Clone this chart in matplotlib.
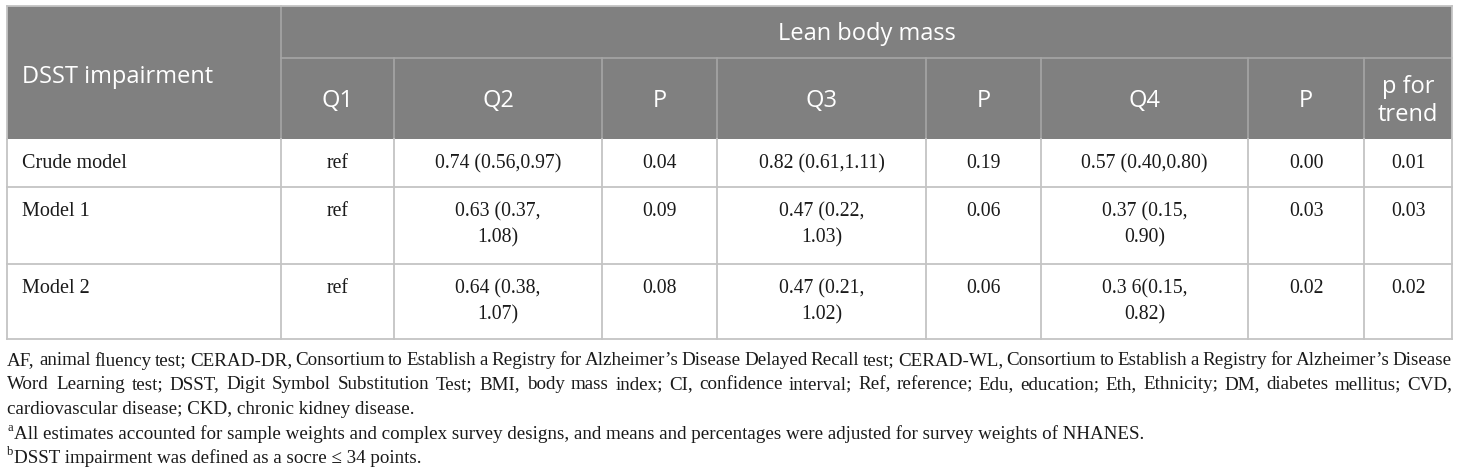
import matplotlib
matplotlib.use("Agg")
import matplotlib.pyplot as plt
from matplotlib.patches import Rectangle
from matplotlib import font_manager
from matplotlib.ft2font import FT2Font

try:
    from matplotlib.ft2font import LoadFlags
    NO_HINT = LoadFlags.NO_HINTING
except ImportError:
    from matplotlib.ft2font import LOAD_NO_HINTING as NO_HINT

# table content
row_labels = ["Crude model", "Model 1", "Model 2"]
col_q1 = ["ref", "ref", "ref"]
col_q2 = ["0.74 (0.56,0.97)", "0.63 (0.37,\n1.08)", "0.64 (0.38,\n1.07)"]
col_p2 = ["0.04", "0.09", "0.08"]
col_q3 = ["0.82 (0.61,1.11)", "0.47 (0.22,\n1.03)", "0.47 (0.21,\n1.02)"]
col_p3 = ["0.19", "0.06", "0.06"]
col_q4 = ["0.57 (0.40,0.80)", "0.37 (0.15,\n0.90)", "0.3 6(0.15,\n0.82)"]
col_p4 = ["0.00", "0.03", "0.02"]
col_trend = ["0.01", "0.03", "0.02"]

header_top = "Lean body mass"
header_first = "DSST impairment"
header_cols = ["Q1", "Q2", "P", "Q3", "P", "Q4", "P", "p for\ntrend"]

notes_justified = [
    "AF, animal fluency test; CERAD-DR, Consortium to Establish a Registry for Alzheimer\u2019s Disease Delayed Recall test; CERAD-WL, Consortium to Establish a Registry for Alzheimer\u2019s Disease",
    "Word Learning test; DSST, Digit Symbol Substitution Test; BMI, body mass index; CI, confidence interval; Ref, reference; Edu, education; Eth, Ethnicity; DM, diabetes mellitus; CVD,",
]
note_last = "cardiovascular disease; CKD, chronic kidney disease."
note_a = "All estimates accounted for sample weights and complex survey designs, and means and percentages were adjusted for survey weights of NHANES."
note_b = "DSST impairment was defined as a socre \u2264 34 points."

# layout in pixels
W, H = 1460, 477
col_edges = [7, 281, 394, 602, 717, 926, 1041, 1248, 1364, 1452]
row_edges = [7, 59, 140, 188, 265, 340]

HEAD_BG = "#808080"
LINE_BODY = "#c4c4c4"
LINE_HEAD = "#a6a6a6"
TXT = "#1a1a1a"
serif = "Liberation Serif"
sans = "Open Sans"

fig = plt.figure(figsize=(W / 100, H / 100), dpi=100)
ax = fig.add_axes([0, 0, 1, 1])
ax.set_xlim(0, W)
ax.set_ylim(H, 0)
ax.axis("off")

left, right = col_edges[0], col_edges[-1]

# header background
ax.add_patch(Rectangle((left, row_edges[0]), right - left, row_edges[2] - row_edges[0],
                       facecolor=HEAD_BG, edgecolor="none"))

# header grid lines
ax.plot([col_edges[1], right], [row_edges[1]] * 2, color=LINE_HEAD, lw=1.2)
ax.plot([col_edges[1]] * 2, [row_edges[0], row_edges[2]], color=LINE_HEAD, lw=1.2)
for x in col_edges[2:-1]:
    ax.plot([x, x], [row_edges[1], row_edges[2]], color=LINE_HEAD, lw=1.2)

# body grid lines
for y in row_edges[3:]:
    ax.plot([left, right], [y, y], color=LINE_BODY, lw=1.3)
for x in col_edges:
    ax.plot([x, x], [row_edges[2], row_edges[-1]], color=LINE_BODY, lw=1.3)
ax.plot([left, left], [row_edges[0], row_edges[2]], color=LINE_BODY, lw=1.3)
ax.plot([right, right], [row_edges[0], row_edges[2]], color=LINE_BODY, lw=1.3)
ax.plot([left, right], [row_edges[0]] * 2, color=LINE_BODY, lw=1.3)

# header text
ax.text(22, 77, header_first, family=sans, fontsize=17,
        color="white", ha="left", va="center")
ax.text((col_edges[1] + right) / 2, 34, header_top,
        family=sans, fontsize=17, color="white", ha="center", va="center")
for i, lab in enumerate(header_cols):
    cx = (col_edges[i + 1] + col_edges[i + 2]) / 2
    ax.text(cx, 101, lab, family=sans, fontsize=17, color="white", ha="center",
            va="center", linespacing=1.2)

# body text
columns = [col_q1, col_q2, col_p2, col_q3, col_p3, col_q4, col_p4, col_trend]
for r, lab in enumerate(row_labels):
    y0 = row_edges[r + 2] + 24
    ax.text(22, y0, lab, family=serif, fontsize=14.5, ha="left", va="center", color=TXT)
    for c, col in enumerate(columns):
        cx = (col_edges[c + 1] + col_edges[c + 2]) / 2
        for k, line in enumerate(col[r].split("\n")):
            ax.text(cx, y0 + k * 26, line, family=serif, fontsize=14.2, ha="center",
                    va="center", color=TXT)

# footnotes
note_fs = 13.7
note_y = [361, 385, 410, 434, 458]

ft = FT2Font(font_manager.findfont(font_manager.FontProperties(family=serif)))
ft.set_size(note_fs, 100)


def advance(s):
    # pen advance in pixels, so spaces count like they do in a set line
    return sum(ft.load_char(ord(ch), flags=NO_HINT).linearHoriAdvance for ch in s) / 65536


# justified lines: spare room spread evenly over the word gaps
for line, y in zip(notes_justified, note_y[:2]):
    words = line.split(" ")
    extra = (right - left - advance(line)) / (len(words) - 1)
    pos = 0.0
    for i, w in enumerate(words):
        ax.text(left + pos + i * extra, y, w, family=serif, fontsize=note_fs,
                ha="left", va="center", color=TXT)
        pos += advance(w + " ")

ax.text(left, note_y[2], note_last, family=serif, fontsize=note_fs, ha="left", va="center",
        color=TXT)

for sup, txt, y in [("a", note_a, note_y[3]), ("b", note_b, note_y[4])]:
    ax.text(left, y - 6, sup, family=serif, fontsize=9, ha="left", va="center", color=TXT)
    ax.text(left + 7, y, txt, family=serif, fontsize=note_fs, ha="left",
            va="center", color=TXT)

fig.savefig("out.png", dpi=100)
